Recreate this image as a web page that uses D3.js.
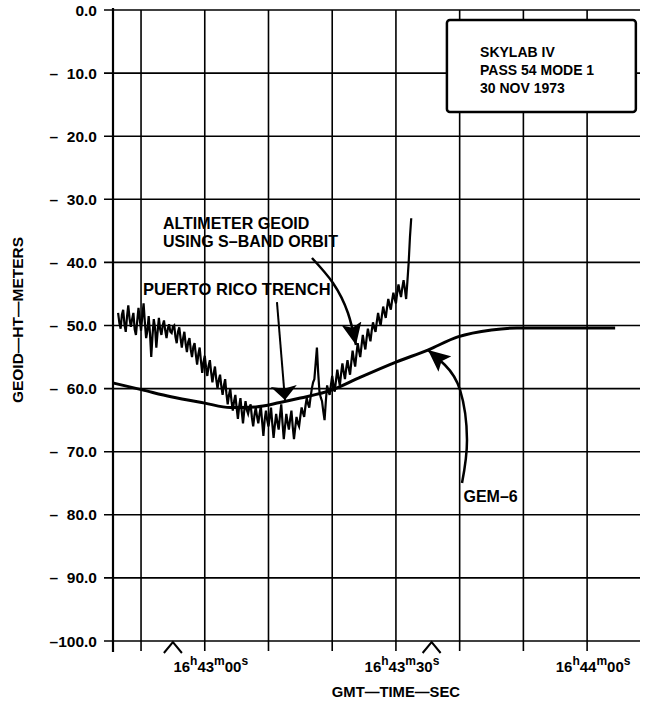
<!DOCTYPE html>
<html>
<head>
<meta charset="utf-8">
<script src="https://cdn.jsdelivr.net/npm/d3@7"></script>
<style>
  body { margin: 0; background: #fff; }
  text { font-family: "Liberation Sans", Arial, sans-serif; font-weight: bold; fill: #000; }
</style>
</head>
<body>
<div id="chart"></div>
<script>
// times are seconds after 16h43m00s GMT, heights in meters
var altTime = [-13.6, -13.4, -13.2, -13.0, -12.8, -12.6, -12.4, -12.2, -12.0, -11.8,
    -11.6, -11.4, -11.2, -11.0, -10.8, -10.6, -10.4, -10.2, -10.0, -9.8,
    -9.6, -9.4, -9.2, -9.0, -8.8, -8.6, -8.4, -8.2, -8.0, -7.8,
    -7.6, -7.4, -7.2, -7.0, -6.8, -6.6, -6.4, -6.2, -6.0, -5.8,
    -5.6, -5.4, -5.2, -5.0, -4.8, -4.6, -4.4, -4.2, -4.0, -3.8,
    -3.6, -3.4, -3.2, -3.0, -2.8, -2.6, -2.4, -2.2, -2.0, -1.8,
    -1.6, -1.4, -1.2, -1.0, -0.8, -0.6, -0.4, -0.2, 0.0, 0.2,
    0.4, 0.6, 0.8, 1.0, 1.2, 1.4, 1.6, 1.8, 2.0, 2.2,
    2.4, 2.6, 2.8, 3.0, 3.2, 3.4, 3.6, 3.8, 4.0, 4.2,
    4.4, 4.6, 4.8, 5.0, 5.2, 5.4, 5.6, 5.8, 6.0, 6.2,
    6.4, 6.6, 6.8, 7.0, 7.2, 7.4, 7.6, 7.8, 8.0, 8.2,
    8.4, 8.6, 8.8, 9.0, 9.2, 9.4, 9.6, 9.8, 10.0, 10.2,
    10.4, 10.6, 10.8, 11.0, 11.2, 11.4, 11.6, 11.8, 12.0, 12.2,
    12.4, 12.6, 12.8, 13.0, 13.2, 13.4, 13.6, 13.8, 14.0, 14.2,
    14.4, 14.6, 14.8, 15.0, 15.2, 15.4, 15.6, 15.8, 16.0, 16.2,
    16.4, 16.6, 16.8, 17.0, 17.2, 17.4, 17.6, 17.8, 18.0, 18.2,
    18.4, 18.6, 18.8, 19.0, 19.2, 19.4, 19.6, 19.8, 20.0, 20.2,
    20.4, 20.6, 20.8, 21.0, 21.2, 21.4, 21.6, 21.8, 22.0, 22.2,
    22.4, 22.6, 22.8, 23.0, 23.2, 23.4, 23.6, 23.8, 24.0, 24.2,
    24.4, 24.6, 24.8, 25.0, 25.2, 25.4, 25.6, 25.8, 26.0, 26.2,
    26.4, 26.6, 26.8, 27.0, 27.2, 27.4, 27.6, 27.8, 28.0, 28.2,
    28.4, 28.6, 28.8, 29.0, 29.2, 29.4, 29.6, 29.8, 30.0, 30.2,
    30.4, 30.6, 30.8, 31.0, 31.2, 31.4, 31.6, 31.8, 32.0, 32.2,
    32.4];
var altHeight = [-48.0, -49.6, -50.5, -48.3, -47.5, -49.8, -51.0, -48.6, -46.8, -48.9,
    -50.2, -49.0, -48.0, -50.6, -51.5, -49.3, -47.2, -49.0, -50.8, -48.5,
    -46.5, -49.5, -52.0, -50.8, -48.5, -51.2, -55.0, -51.6, -49.0, -50.4,
    -53.5, -51.0, -48.8, -50.6, -51.5, -50.0, -49.2, -50.8, -52.0, -50.5,
    -49.8, -51.0, -51.2, -50.2, -50.0, -51.8, -52.8, -51.0, -50.3, -52.0,
    -53.5, -52.0, -51.0, -52.9, -54.2, -52.6, -52.0, -53.8, -55.0, -53.4,
    -52.8, -54.6, -56.2, -54.5, -53.5, -55.6, -57.5, -55.8, -54.8, -56.6,
    -58.0, -56.4, -55.5, -57.4, -59.0, -57.6, -56.5, -58.5, -60.0, -58.6,
    -57.8, -59.6, -61.0, -59.5, -58.5, -60.8, -62.5, -61.0, -60.0, -62.0,
    -63.5, -62.0, -61.0, -63.0, -64.8, -62.8, -61.5, -63.6, -65.5, -63.5,
    -62.0, -63.4, -64.0, -63.0, -62.5, -64.6, -66.0, -64.2, -63.0, -64.4,
    -65.5, -64.0, -62.8, -65.2, -67.5, -65.0, -63.5, -65.0, -66.0, -64.5,
    -63.0, -65.6, -67.8, -65.8, -64.0, -65.4, -66.5, -64.3, -62.5, -65.4,
    -68.0, -66.0, -64.0, -65.4, -66.5, -64.8, -63.5, -66.0, -68.0, -66.2,
    -64.5, -65.5, -66.0, -64.4, -63.0, -63.8, -64.5, -62.8, -61.5, -62.4,
    -63.0, -61.4, -60.0, -59.0, -58.5, -56.0, -53.5, -57.5, -60.5, -61.4,
    -62.0, -63.6, -65.0, -62.0, -59.5, -60.4, -61.0, -59.4, -58.0, -59.4,
    -60.5, -58.6, -57.0, -58.4, -59.5, -57.6, -56.0, -57.4, -58.5, -56.8,
    -55.5, -56.8, -57.8, -55.8, -54.0, -55.4, -56.5, -54.6, -52.8, -54.0,
    -55.0, -53.2, -51.5, -52.8, -53.8, -52.0, -50.5, -51.6, -52.5, -50.8,
    -49.5, -50.4, -51.0, -49.4, -48.0, -49.2, -50.0, -48.4, -47.0, -48.0,
    -48.8, -47.2, -45.8, -46.8, -47.5, -46.0, -44.8, -45.8, -46.5, -44.8,
    -43.5, -44.6, -45.5, -44.0, -42.8, -44.2, -45.8, -43.0, -40.0, -36.0,
    -33.0];

var gemTime = [-14.4, -9.8, -5.3, 0, 4, 8, 11.8, 15, 20, 24.2, 30, 35, 39.7, 45, 49, 55, 64.4];
var gemHeight = [-59.1, -60.2, -61.3, -62.3, -63.0, -62.9, -62.2, -61.5, -60.2, -58.3, -55.8, -53.9, -51.8, -50.7, -50.4, -50.4, -50.4];

var yTicks = [0, -10, -20, -30, -40, -50, -60, -70, -80, -90, -100];
var yTickLabels = ["0.0", "\u2013\u00a0\u00a010.0", "\u2013\u00a0\u00a020.0", "\u2013\u00a0\u00a030.0",
    "\u2013\u00a0\u00a040.0", "\u2013\u00a0\u00a050.0", "\u2013\u00a0\u00a060.0", "\u2013\u00a0\u00a070.0",
    "\u2013\u00a0\u00a080.0", "\u2013\u00a0\u00a090.0", "\u2013100.0"];
var xGrid = [-10, 0, 10, 20, 30, 40, 50, 60];
var xTickTimes = [0, 30, 60];
var xTickLabels = ["16h43m00s", "16h43m30s", "16h44m00s"];
var caretTimes = [-5, 35.6];
var infoLines = ["SKYLAB IV", "PASS 54 MODE 1", "30 NOV 1973"];

var margin = { top: 10, right: 9, bottom: 67, left: 113 },
    width = 649 - margin.left - margin.right,
    height = 708 - margin.top - margin.bottom;

var svg = d3.select('#chart').append('svg')
    .attr('width', width + margin.left + margin.right)
    .attr('height', height + margin.top + margin.bottom)
    .append('g')
    .attr('transform', 'translate(' + margin.left + ',' + margin.top + ')');

var x = d3.scaleLinear().domain([-14.4, 68.3]).range([0, width]);
var y = d3.scaleLinear().domain([0, -100]).range([0, height]);

// arrow heads
var defs = svg.append('defs');
function head(id, len, w) {
    defs.append('marker')
        .attr('id', id)
        .attr('markerUnits', 'userSpaceOnUse')
        .attr('viewBox', '0 0 ' + len + ' ' + w)
        .attr('markerWidth', len).attr('markerHeight', w)
        .attr('refX', len).attr('refY', w / 2)
        .attr('orient', 'auto')
        .append('path')
        .attr('d', 'M0,0 L' + len + ',' + (w / 2) + ' L0,' + w + ' L' + (len * 0.2) + ',' + (w / 2) + ' Z')
        .attr('fill', '#000');
}
head('head', 22, 20);
head('wide', 14, 26);

// grid
svg.append('g').selectAll('line')
    .data(yTicks)
    .enter().append('line')
    .attr('x1', -9).attr('x2', width)
    .attr('y1', d => y(d)).attr('y2', d => y(d))
    .attr('stroke', '#000').attr('stroke-width', 1.6);

svg.append('g').selectAll('line')
    .data(xGrid)
    .enter().append('line')
    .attr('x1', d => x(d)).attr('x2', d => x(d))
    .attr('y1', 0).attr('y2', height + 10)
    .attr('stroke', '#000').attr('stroke-width', 1.6);

svg.append('line')
    .attr('x1', 0).attr('x2', 0)
    .attr('y1', -2).attr('y2', height + 11)
    .attr('stroke', '#000').attr('stroke-width', 2.2);

// y labels
svg.append('g').selectAll('text')
    .data(yTicks)
    .enter().append('text')
    .attr('x', -16)
    .attr('y', d => y(d))
    .attr('dy', '0.36em')
    .attr('text-anchor', 'end')
    .style('font-size', '15.5px')
    .text((d, i) => yTickLabels[i]);

svg.append('text')
    .attr('transform', 'translate(' + (17 - margin.left) + ',' + (320 - margin.top) + ') rotate(-90)')
    .attr('text-anchor', 'middle')
    .attr('dy', '0.36em')
    .style('font-size', '15.5px')
    .text('GEOID\u2014HT\u2014METERS');

// x labels with superscript h m s
var xl = svg.append('g').selectAll('text')
    .data(xTickTimes)
    .enter().append('text')
    .attr('x', d => x(d) + 6)
    .attr('y', height + 31)
    .attr('text-anchor', 'middle');

xl.each(function(d, i) {
    var t = d3.select(this);
    var parts = xTickLabels[i].match(/\d+|[a-z]/g);
    parts.forEach(function(p, j) {
        var sup = /[a-z]/.test(p);
        var prevSup = j > 0 && /[a-z]/.test(parts[j - 1]);
        t.append('tspan')
            .style('font-size', sup ? '12px' : '15px')
            .attr('dy', sup ? -7 : (prevSup ? 7 : 0))
            .text(p);
    });
});

svg.append('text')
    .attr('x', x(30))
    .attr('y', height + 56)
    .attr('text-anchor', 'middle')
    .style('font-size', '14.8px')
    .text('GMT\u2014TIME\u2014SEC');

// carets under the axis
svg.append('g').selectAll('path')
    .data(caretTimes)
    .enter().append('path')
    .attr('d', d => 'M' + (x(d) - 9) + ',' + (height + 12) + ' L' + x(d) + ',' + (height + 1) + ' L' + (x(d) + 9) + ',' + (height + 12))
    .attr('fill', 'none')
    .attr('stroke', '#000')
    .attr('stroke-width', 2);

// GEM-6 model
var gem = gemTime.map((t, i) => [t, gemHeight[i]]);
svg.append('path')
    .datum(gem)
    .attr('fill', 'none')
    .attr('stroke', '#000')
    .attr('stroke-width', 3)
    .attr('d', d3.line()
        .x(d => x(d[0]))
        .y(d => y(d[1]))
        .curve(d3.curveMonotoneX));

// altimeter geoid
var alt = altTime.map((t, i) => [t, altHeight[i]]);
svg.append('path')
    .datum(alt)
    .attr('fill', 'none')
    .attr('stroke', '#000')
    .attr('stroke-width', 2.2)
    .attr('d', d3.line()
        .x(d => x(d[0]))
        .y(d => y(d[1])));

// annotations
var curved = d3.line().x(d => x(d[0])).y(d => y(d[1])).curve(d3.curveNatural);

svg.append('path')
    .datum([[11.33, -46.3], [12.59, -61.8]])
    .attr('d', curved)
    .attr('fill', 'none').attr('stroke', '#000').attr('stroke-width', 2)
    .attr('marker-end', 'url(#wide)');

svg.append('path')
    .datum([[16.82, -39.3], [20.12, -43.26], [22.47, -48.02], [23.73, -53.09]])
    .attr('d', curved)
    .attr('fill', 'none').attr('stroke', '#000').attr('stroke-width', 2.5)
    .attr('marker-end', 'url(#head)');

svg.append('path')
    .datum([[40.37, -74.96], [41.15, -68.15], [40.06, -60.22], [37.69, -56.26], [35.03, -53.88]])
    .attr('d', curved)
    .attr('fill', 'none').attr('stroke', '#000').attr('stroke-width', 2.5)
    .attr('marker-end', 'url(#head)');

svg.append('text')
    .attr('x', x(-6.56)).attr('y', y(-34.7))
    .style('font-size', '16px')
    .text('ALTIMETER GEOID');
svg.append('text')
    .attr('x', x(-6.56)).attr('y', y(-37.56))
    .style('font-size', '16px')
    .text('USING S\u2013BAND ORBIT');
svg.append('text')
    .attr('x', x(-9.7)).attr('y', y(-45.17))
    .style('font-size', '16.5px')
    .text('PUERTO RICO TRENCH');
svg.append('text')
    .attr('x', x(40.6)).attr('y', y(-77.97))
    .style('font-size', '16px')
    .text('GEM\u20136');

// info box
svg.append('rect')
    .attr('x', x(38.0)).attr('y', y(-1.58))
    .attr('width', x(67.65) - x(38.0))
    .attr('height', y(-16.16) - y(-1.58))
    .attr('rx', 3)
    .attr('fill', '#fff')
    .attr('stroke', '#000')
    .attr('stroke-width', 2.5);

svg.append('g').selectAll('text')
    .data(infoLines)
    .enter().append('text')
    .attr('x', x(43.2))
    .attr('y', (d, i) => y(-7.45) + i * 18)
    .style('font-size', '14px')
    .text(d => d);
</script>
</body>
</html>
